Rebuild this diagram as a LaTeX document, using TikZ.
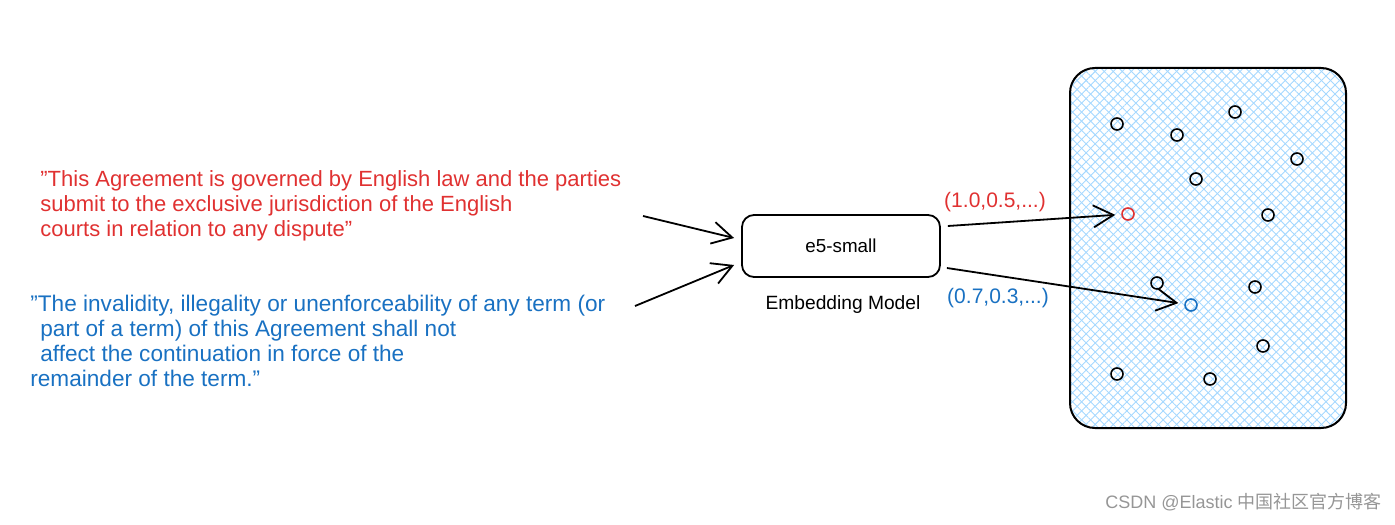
\documentclass[tikz,border=0pt]{standalone}
\usepackage{fontspec}
\setmainfont{Liberation Sans}
\newfontfamily\cjkfont{Noto Sans CJK SC}
\usetikzlibrary{arrows.meta,calc,patterns.meta}
\definecolor{exred}{HTML}{E03131}
\definecolor{exblue}{HTML}{1971C2}
\definecolor{hatch}{HTML}{A5D8FF}
\definecolor{wmgray}{RGB}{150,150,150}
\newcommand{\dq}{\symbol{34}}
\tikzset{
  redtxt/.style={anchor=base west, inner sep=0pt, text=exred, font=\fontsize{11}{13}\selectfont},
  bluetxt/.style={anchor=base west, inner sep=0pt, text=exblue, font=\fontsize{11.3}{13}\selectfont},
  arr/.style={draw=black, line width=0.9pt, -{Straight Barb[length=10pt,width=11pt,line width=0.9pt]}},
  modelbox/.style={draw=black, line width=0.9pt, rounded corners=6pt, minimum width=99pt, minimum height=31pt, font=\fontsize{9.4}{12}\selectfont},
  spacebox/.style={draw=black, line width=1pt, rounded corners=12.5pt, minimum width=138pt, minimum height=180pt,
    pattern={Lines[angle=-45,distance=3.2pt,line width=0.45pt]}, pattern color=hatch,
    preaction={pattern={Lines[angle=45,distance=3.2pt,line width=0.45pt]}, pattern color=hatch}},
  pt/.style={circle, draw=#1, line width=0.8pt, minimum size=6pt, inner sep=0pt},
  pt/.default=black,
  vec/.style={font=\fontsize{10.5}{12}\selectfont, inner sep=0pt}
}
\begin{document}
\begin{tikzpicture}[x=0.5pt,y=-0.5pt]
\useasboundingbox (0,0) rectangle (1395,524);
% red paragraph
\node[redtxt] (r1) at (40,186) {\dq This Agreement is governed by English law and the parties};
\node[redtxt] (r2) at (40,211) {submit to the exclusive jurisdiction of the English};
\node[redtxt] (r3) at (40,236) {courts in relation to any dispute\dq};
% blue paragraph
\node[bluetxt] (b1) at (30,311) {\dq The invalidity, illegality or unenforceability of any term (or};
\node[bluetxt] (b2) at (40,336) {part of a term) of this Agreement shall not};
\node[bluetxt] (b3) at (40,361) {affect the continuation in force of the};
\node[bluetxt] (b4) at (30,386) {remainder of the term.\dq};
% model
\node[modelbox] (model) at (841,246) {e5-small};
\node[font=\fontsize{9.6}{12}\selectfont, inner sep=0pt] (mlabel) at (843,305) {Embedding Model};
% input arrows
\coordinate (rin) at (643,216);
\coordinate (bin) at (635,306);
\draw[arr] (rin) -- ($(model.west)+(-7,-8)$);
\draw[arr] (bin) -- ($(model.west)+(-7,19)$);
% embedding space
\node[spacebox] (space) at (1208,248) {};
\node[pt] (p1) at (1117,124) {};
\node[pt] (p2) at (1177,135) {};
\node[pt] (p3) at (1235,112) {};
\node[pt] (p4) at (1297,159) {};
\node[pt] (p5) at (1196,179) {};
\node[pt=exred] (pR) at (1128,214) {};
\node[pt] (p6) at (1268,215) {};
\node[pt] (p7) at (1157,283) {};
\node[pt] (p8) at (1255,287) {};
\node[pt=exblue] (pB) at (1191,305) {};
\node[pt] (p9) at (1263,346) {};
\node[pt] (p10) at (1117,374) {};
\node[pt] (p11) at (1210,379) {};
% output arrows
\draw[arr, shorten >=3pt] ($(model.east)+(7,-20)$) -- (pR);
\draw[arr, shorten >=3pt] ($(model.east)+(6,22)$) -- (pB);
\node[vec, text=exred] (v1) at (995,202) {(1.0,0.5,...)};
\node[vec, text=exblue] (v2) at (998,298) {(0.7,0.3,...)};
% watermark
\node[anchor=base east, inner sep=0pt, text=wmgray, font=\fontsize{9}{11}\selectfont] (wm) at (1382,508) {CSDN @Elastic {\cjkfont 中国社区官方博客}};
\end{tikzpicture}
\end{document}
